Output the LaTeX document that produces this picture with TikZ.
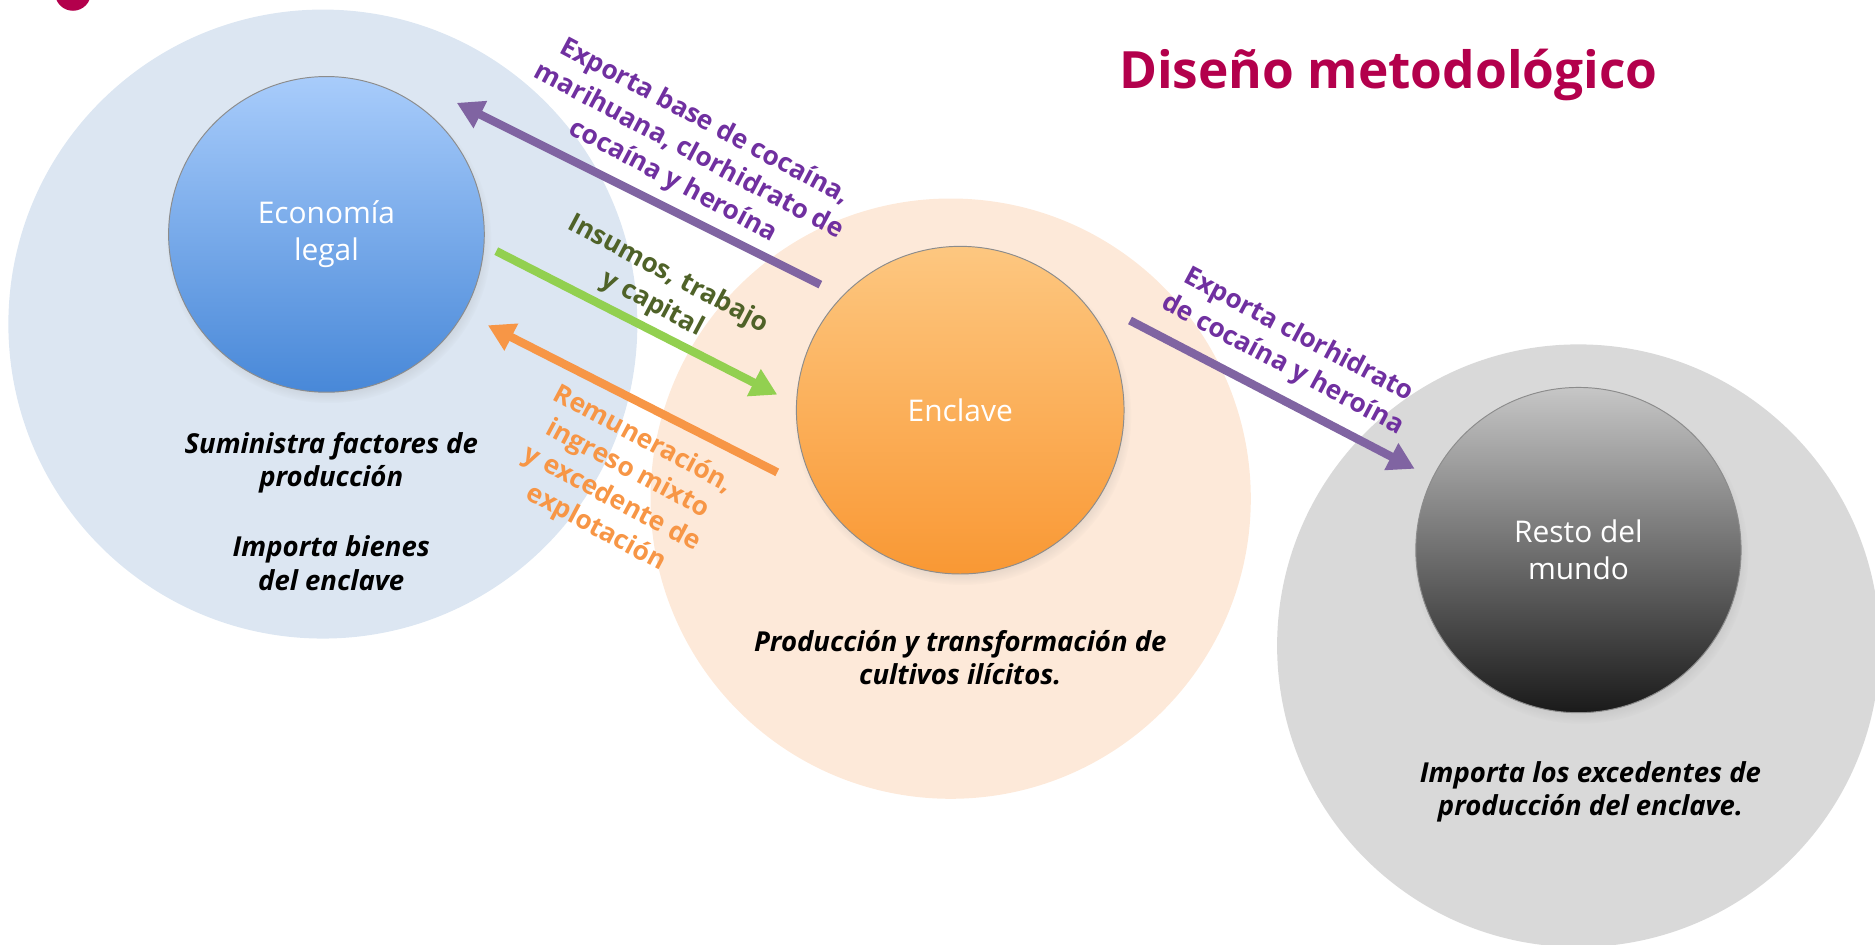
\documentclass[tikz,border=0pt]{standalone}
\usepackage{fontspec}
\setmainfont{Open Sans}
\usetikzlibrary{arrows.meta,shadows}
\definecolor{bgblue}{HTML}{DCE6F2}
\definecolor{bgorange}{HTML}{FDE9D9}
\definecolor{bggray}{HTML}{D9D9D9}
\definecolor{titlecol}{HTML}{B3004C}
\definecolor{purarrow}{HTML}{8064A2}
\definecolor{purtext}{HTML}{7030A0}
\definecolor{grnarrow}{HTML}{92D050}
\definecolor{grntext}{HTML}{4F6228}
\definecolor{orgarrow}{HTML}{F79646}
\definecolor{ecotop}{HTML}{A8CCFB}
\definecolor{ecobot}{HTML}{4888D8}
\definecolor{enctop}{HTML}{FDC780}
\definecolor{encbot}{HTML}{F99834}
\definecolor{rdmtop}{HTML}{C6C6C6}
\definecolor{rdmbot}{HTML}{1A1A1A}
\begin{document}
\begin{tikzpicture}[x=1pt,y=-1pt,
  bigcircle/.style={circle, minimum size=#1, inner sep=0pt, draw=black!45, line width=0.8pt,
     circular drop shadow={shadow xshift=2pt, shadow yshift=-5pt, opacity=0.35, shadow scale=1.03}},
  inlabel/.style={text=white, align=center, font=\fontsize{25}{31}\selectfont},
  desc/.style={align=center, font=\fontsize{23}{28}\selectfont\bfseries\itshape},
  flowlabel/.style={align=center, rotate=-28, font=\fontsize{22}{28}\selectfont\bfseries},
  flow/.style={line width=7pt, -{Triangle[length=22pt,width=24pt]}}
]
\useasboundingbox (0,0) rectangle (1568,790);
% background discs
\fill[bgblue] (270,271) circle (263pt);
\fill[bgorange] (795,417) circle (251pt);
\fill[bggray] (1320,540) circle (252pt);
% corner mark
\fill[titlecol] (61,-6) circle (15pt);
% title
\node[text=titlecol, font=\fontsize{43}{50}\selectfont\bfseries] (title) at (1161,63) {Diseño metodológico};
% main circles
\node[bigcircle=264pt, top color=ecotop, bottom color=ecobot] (eco) at (273,196) {};
\node[inlabel] (ecot) at (eco.center) {Economía\\legal};
\node[bigcircle=274pt, top color=enctop, bottom color=encbot] (enc) at (803,343) {};
\node[inlabel] (enct) at (enc.center) {Enclave};
\node[bigcircle=272pt, top color=rdmtop, bottom color=rdmbot] (rdm) at (1320,460) {};
\node[inlabel] (rdmt) at (rdm.center) {Resto del\\mundo};
% descriptions
\node[desc] (d1) at (277,387) {Suministra factores de\\producción};
\node[desc] (d2) at (277,471) {Importa bienes\\del enclave};
\node[desc] (d3) at (803,550) {Producción y transformación de\\cultivos ilícitos.};
\node[desc] (d4) at (1330,662) {Importa los excedentes de\\producción del enclave.};
% arrow end points
\coordinate (a1s) at (686,238); \coordinate (a1e) at (382,86);
\coordinate (a2s) at (415,210); \coordinate (a2e) at (650,330);
\coordinate (a3s) at (650,395); \coordinate (a3e) at (408,272);
\coordinate (a4s) at (945,268); \coordinate (a4e) at (1183,392);
\draw[flow, purarrow] (a1s) -- (a1e);
\draw[flow, grnarrow] (a2s) -- (a2e);
\draw[flow, orgarrow] (a3s) -- (a3e);
\draw[flow, purarrow] (a4s) -- (a4e);
% flow labels
\node[flowlabel, text=purtext] (l1) at (576,127) {Exporta base de cocaína,\\marihuana, clorhidrato de\\cocaína y heroína};
\node[flowlabel, text=grntext] (l2) at (552,242) {Insumos, trabajo\\y capital};
\node[flowlabel, text=orgarrow] (l3) at (518,405) {Remuneración,\\ingreso mixto\\y excedente de\\explotación};
\node[flowlabel, text=purtext] (l4) at (1079,293) {Exporta clorhidrato\\de cocaína y heroína};
\end{tikzpicture}
\end{document}
